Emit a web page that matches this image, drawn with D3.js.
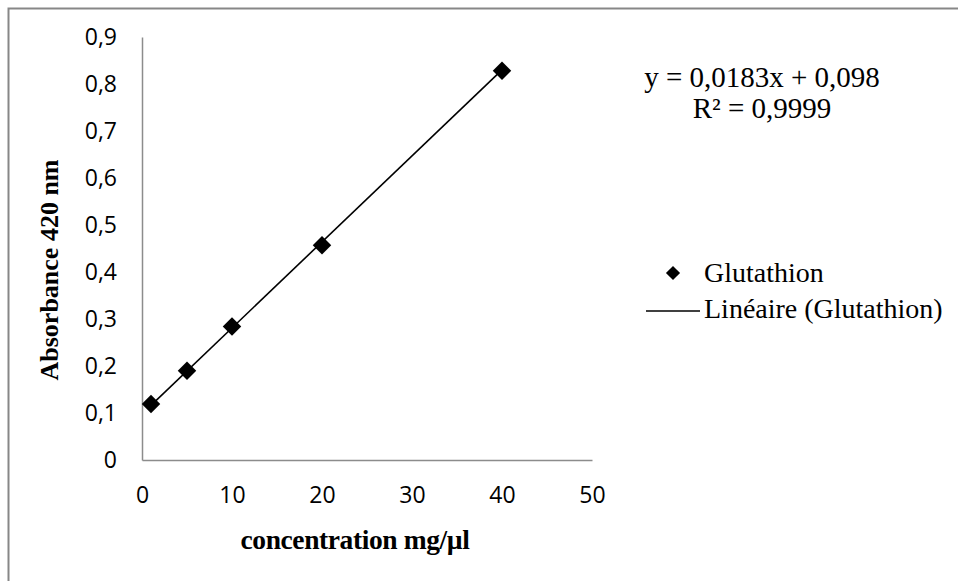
<!DOCTYPE html>
<html>
<head>
<meta charset="utf-8">
<script src="https://cdn.jsdelivr.net/npm/d3@7"></script>
<style>
  html, body { margin: 0; padding: 0; background: #fff; }
  svg { display: block; }
</style>
</head>
<body>
<svg id="chart" width="958" height="581"></svg>
<script>
// Calibration data: glutathione concentration vs absorbance at 420 nm
const concentrations = [1, 5, 10, 20, 40];
const absorbances = [0.119, 0.19, 0.284, 0.457, 0.828];
const xTicks = [0, 10, 20, 30, 40, 50];
const yTicks = [0, 0.1, 0.2, 0.3, 0.4, 0.5, 0.6, 0.7, 0.8, 0.9];
const slope = 0.0183;
const intercept = 0.098;
const equationLines = ["y = 0,0183x + 0,098", "R² = 0,9999"];
const legendLabels = ["Glutathion", "Linéaire (Glutathion)"];

const svg = d3.select("#chart");
const fr = d3.format(".1f");
const commaNum = v => (v === 0 ? "0" : fr(v).replace(".", ","));

// outer frame
svg.append("rect")
  .attr("x", 8.5).attr("y", 8.5)
  .attr("width", 960).attr("height", 590)
  .attr("fill", "#fff").attr("stroke", "#878787").attr("stroke-width", 2);

const x = d3.scaleLinear().domain([0, 50]).range([142, 592]);
const y = d3.scaleLinear().domain([0, 0.9]).range([460, 37]);

const tickFont = "'Open Sans', 'Noto Sans', sans-serif";
const serif = "'Liberation Serif', 'DejaVu Serif', serif";

// x axis
const xAxis = svg.append("g")
  .attr("transform", `translate(0,${y(0)})`)
  .call(d3.axisBottom(x).tickValues(xTicks).tickSize(0).tickPadding(27).tickFormat(d3.format("d")));
xAxis.select(".domain").attr("stroke", "#8c8c8c").attr("stroke-width", 1.5);
xAxis.selectAll("text")
  .attr("font-family", tickFont).attr("font-size", 23).attr("fill", "#000");

// y axis
const yAxis = svg.append("g")
  .attr("transform", `translate(${x(0)},0)`)
  .call(d3.axisLeft(y).tickValues(yTicks).tickSize(0).tickPadding(25).tickFormat(commaNum));
yAxis.select(".domain").attr("stroke", "#8c8c8c").attr("stroke-width", 1.5);
yAxis.selectAll("text")
  .attr("font-family", tickFont).attr("font-size", 23).attr("fill", "#000");

// linear trendline over the data range
const xMin = d3.min(concentrations), xMax = d3.max(concentrations);
const trend = [xMin, xMax].map(c => [c, slope * c + intercept]);
svg.append("path")
  .datum(trend)
  .attr("d", d3.line().x(d => x(d[0])).y(d => y(d[1])))
  .attr("fill", "none").attr("stroke", "#000").attr("stroke-width", 1.6);

// diamond markers
const diamond = d3.symbol().type(d3.symbolSquare).size(170);
svg.append("g").selectAll("path")
  .data(concentrations.map((c, i) => [c, absorbances[i]]))
  .join("path")
  .attr("d", diamond)
  .attr("transform", d => `translate(${x(d[0])},${y(d[1])}) rotate(45)`)
  .attr("fill", "#000");

// axis titles
svg.append("text")
  .attr("x", 355).attr("y", 549)
  .attr("text-anchor", "middle")
  .attr("font-family", serif).attr("font-weight", "bold").attr("font-size", 27.5)
  .attr("letter-spacing", -0.4)
  .text("concentration mg/µl");

svg.append("text")
  .attr("transform", "translate(58,270) rotate(-90)")
  .attr("text-anchor", "middle")
  .attr("font-family", serif).attr("font-weight", "bold").attr("font-size", 26)
  .text("Absorbance 420 nm");

// regression equation
svg.append("g").selectAll("text")
  .data(equationLines)
  .join("text")
  .attr("x", 762).attr("y", (d, i) => 87 + i * 31)
  .attr("text-anchor", "middle")
  .attr("font-family", serif).attr("font-size", 29)
  .text(d => d);

// legend
const legend = svg.append("g");
legend.append("path")
  .attr("d", d3.symbol().type(d3.symbolSquare).size(100))
  .attr("transform", "translate(673,273) rotate(45)")
  .attr("fill", "#000");
legend.append("line")
  .attr("x1", 646).attr("x2", 700).attr("y1", 311).attr("y2", 311)
  .attr("stroke", "#000").attr("stroke-width", 1.6);
legend.selectAll("text")
  .data(legendLabels)
  .join("text")
  .attr("x", 704).attr("y", (d, i) => 282 + i * 36)
  .attr("font-family", serif).attr("font-size", 28)
  .text(d => d);
</script>
</body>
</html>
